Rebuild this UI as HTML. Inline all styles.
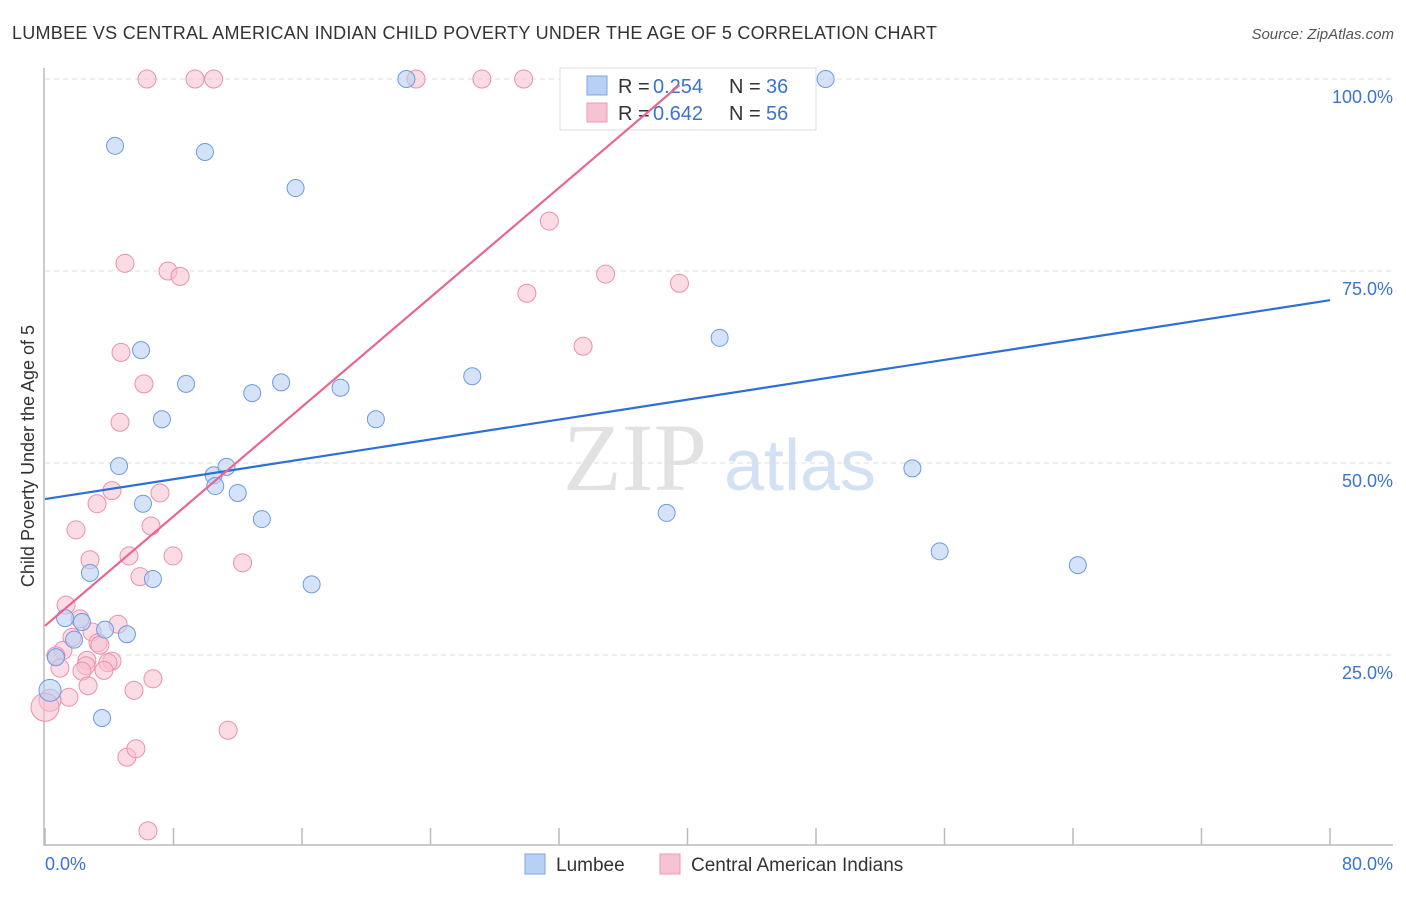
<!DOCTYPE html>
<html><head><meta charset="utf-8"><style>
body{margin:0;background:#fff;font-family:"Liberation Sans",sans-serif;}
</style></head><body>
<svg width="1406" height="892" viewBox="0 0 1406 892" xmlns="http://www.w3.org/2000/svg">
<text x="12" y="39" font-size="18" fill="#333" textLength="925">LUMBEE VS CENTRAL AMERICAN INDIAN CHILD POVERTY UNDER THE AGE OF 5 CORRELATION CHART</text>
<text x="1394" y="39" font-size="15" fill="#555" text-anchor="end" font-style="italic">Source: ZipAtlas.com</text>
<text x="635" y="490" font-size="96" fill="#e2e2e2" text-anchor="middle" font-family="Liberation Serif,serif">ZIP</text>
<text x="800" y="490" font-size="72" fill="#d3e1f5" text-anchor="middle">atlas</text>
<g id="grid"></g>
<g id="axes"></g>
<g id="pts"></g>
<text transform="translate(34,456) rotate(-90)" font-size="18" fill="#333" text-anchor="middle">Child Poverty Under the Age of 5</text>
<g>
<rect x="560" y="68" width="256" height="62" fill="#fff" stroke="#ddd"/>
<rect x="587" y="76" width="20" height="19" fill="#b7d0f3" stroke="#7fa5e4"/>
<text x="618" y="93" font-size="20" fill="#333">R =</text>
<text x="653" y="93" font-size="20" fill="#3b73d1">0.254</text>
<text x="729" y="93" font-size="20" fill="#333">N =</text>
<text x="766" y="93" font-size="20" fill="#3b73d1">36</text>
<rect x="587" y="103" width="20" height="19" fill="#f7c3d3" stroke="#ec98b3"/>
<text x="618" y="120" font-size="20" fill="#333">R =</text>
<text x="653" y="120" font-size="20" fill="#3b73d1">0.642</text>
<text x="729" y="120" font-size="20" fill="#333">N =</text>
<text x="766" y="120" font-size="20" fill="#3b73d1">56</text>
</g>
<g id="lines"></g>
<g>
<rect x="525" y="854" width="20" height="20" fill="#b7d0f3" stroke="#7fa5e4"/>
<text x="556" y="871" font-size="19" fill="#333">Lumbee</text>
<rect x="660" y="854" width="20" height="20" fill="#f7c3d3" stroke="#ec98b3"/>
<text x="691" y="871" font-size="19" fill="#333">Central American Indians</text>
</g>
<text x="45" y="870" font-size="18" fill="#3b73d1">0.0%</text>
<text x="1393" y="870" font-size="18" fill="#3b73d1" text-anchor="end">80.0%</text>
</svg>
<script>
const yTicks=[25,50,75,100];
const yTickLabels=["25.0%","50.0%","75.0%","100.0%"];
const blueX=[4.36,9.96,15.6,22.5,48.6,5.98,8.78,12.9,14.7,18.4,26.6,42.0,7.28,20.6,4.61,10.5,11.3,10.6,12.0,6.10,13.5,38.7,54.0,55.7,64.3,2.80,6.72,16.6,1.25,2.30,3.74,5.10,1.81,0.68,0.31,3.55];
const blueY=[91.3,90.5,85.8,100,100,64.7,60.3,59.1,60.5,59.8,61.3,66.3,55.7,55.7,49.6,48.4,49.5,47.0,46.1,44.7,42.7,43.5,49.3,38.5,36.7,35.7,34.9,34.2,29.8,29.3,28.3,27.7,27.0,24.7,20.4,16.8];
const pinkX=[6.35,9.34,10.5,23.1,27.2,29.8,31.4,4.98,7.66,8.41,34.9,39.5,30.0,33.5,4.73,6.16,4.67,4.17,7.16,3.24,1.93,6.60,2.80,5.23,7.97,12.3,5.91,1.31,2.18,4.55,2.93,1.68,3.30,3.42,1.12,0.68,2.61,4.17,3.92,2.55,0.93,3.67,2.30,6.72,2.68,5.54,1.49,0.31,0.0,11.4,5.10,5.66,6.41];
const pinkY=[100,100,100,100,100,100,81.5,76.0,75.0,74.3,74.6,73.4,72.1,65.2,64.4,60.3,55.3,46.4,46.1,44.7,41.3,41.8,37.4,37.9,37.9,37.0,35.2,31.5,29.7,29.0,28.0,27.3,26.6,26.3,25.6,24.9,24.3,24.2,24.0,23.6,23.3,23.0,22.9,21.9,21.0,20.4,19.5,19.1,18.2,15.2,11.7,12.8,2.1];
const pinkR=[];pinkX.forEach((_,i)=>pinkR.push(i==48?14:(i==47?11:9)));
const blueLine=[45.3,71.2];
const pinkLine=[28.8,99.2,39.5];
const NS="http://www.w3.org/2000/svg";
const sx=v=>45+v/80*1285, sy=v=>847-v/100*768;
function mk(t,a,p){const e=document.createElementNS(NS,t);for(const k in a)e.setAttribute(k,a[k]);p.appendChild(e);return e;}
const grid=document.getElementById('grid');
yTicks.forEach((t,i)=>{
 const l=mk('line',{x1:45,x2:1393,y1:sy(t),y2:sy(t),stroke:'#ddd','stroke-dasharray':'5,4'},grid);
 
 
 const tx=mk('text',{x:1393,y:sy(t)+24,'font-size':18,fill:'#3b73d1','text-anchor':'end'},grid);
 tx.textContent=yTickLabels[i];
 
 
});
const ax=document.getElementById('axes');
let a1=mk('line',{x1:44,x2:44,y1:68,y2:846,stroke:'#bbb','stroke-width':1.5},ax);


let a2=mk('line',{x1:44,x2:1393,y1:845,y2:845,stroke:'#bbb','stroke-width':1.5},ax);


for(let i=0;i<=10;i++){const x=sx(i*8);
 const t=mk('line',{x1:x,x2:x,y1:828,y2:845,stroke:'#bbb','stroke-width':1.5},ax);
 
 }
const pts=document.getElementById('pts');
pinkX.forEach((x,i)=>{const c=mk('circle',{cx:sx(x),cy:sy(pinkY[i]),r:pinkR[i],fill:'#f7bfd0','fill-opacity':0.55,stroke:'#ec8fac','stroke-width':1},pts);
 
 });
blueX.forEach((x,i)=>{const c=mk('circle',{cx:sx(x),cy:sy(blueY[i]),r:(i==34?11:8.5),fill:'#b7d0f3','fill-opacity':0.6,stroke:'#6f9ae0','stroke-width':1},pts);
 
 });
const lg=document.getElementById('lines');
const bl=mk('line',{x1:sx(0),y1:sy(blueLine[0]),x2:sx(80),y2:sy(blueLine[1]),stroke:'#2d6fd6','stroke-width':2.2},lg);


const pl=mk('line',{x1:sx(0),y1:sy(pinkLine[0]),x2:sx(pinkLine[2]),y2:sy(pinkLine[1]),stroke:'#e8668f','stroke-width':2.2},lg);


</script>
</body></html>
